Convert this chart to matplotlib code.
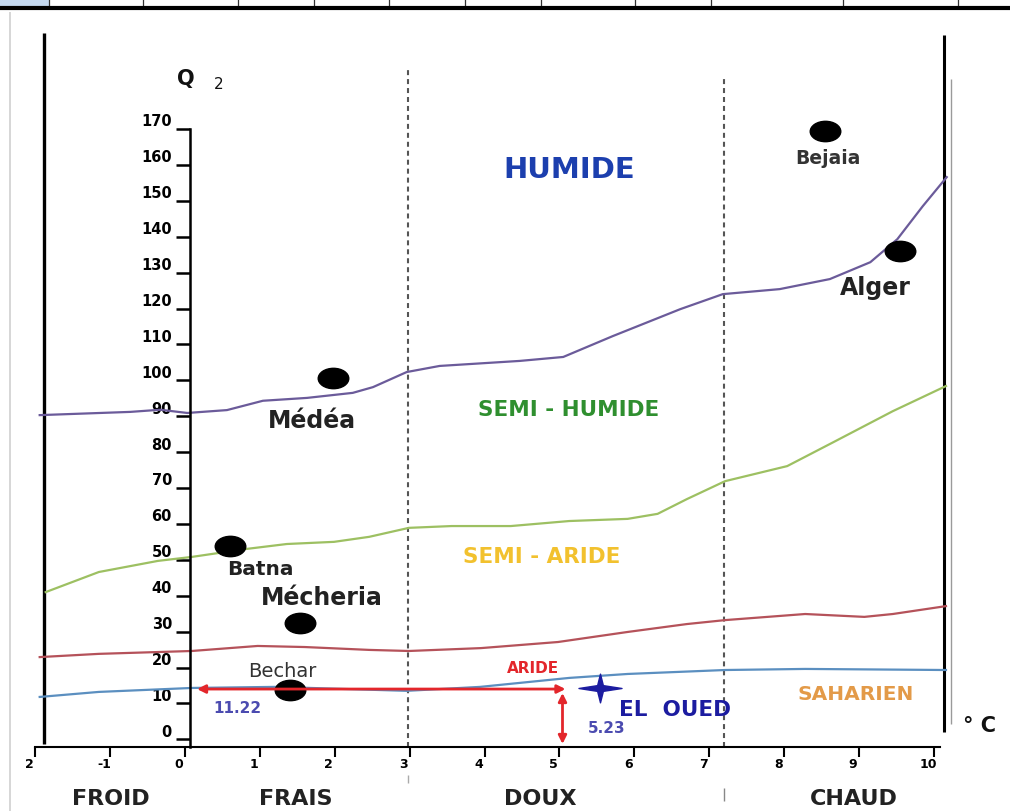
import matplotlib
matplotlib.use("Agg")
import matplotlib.pyplot as plt
from matplotlib.path import Path
from matplotlib.transforms import Affine2D, ScaledTranslation

plt.rcParams['font.family'] = ['DejaVu Sans']

# ---------------- data ----------------
x_ticks = [-2, -1, 0, 1, 2, 3, 4, 5, 6, 7, 8, 9, 10]
x_tick_labels = ["2", "-1", "0", "1", "2", "3", "4", "5", "6", "7", "8", "9", "10"]
y_ticks = [0, 10, 20, 30, 40, 50, 60, 70, 80, 90, 100, 110, 120, 130, 140, 150, 160, 170]
y_tick_labels = [str(v) for v in y_ticks]

purple_m = [-1.94, -0.73, -0.33, 0.03, 0.56, 1.04, 1.63, 2.24, 2.51, 2.96, 3.40, 4.47,
            5.05, 5.71, 6.61, 7.18, 7.94, 8.61, 9.15, 9.51, 9.85, 10.17]
purple_q2 = [90.3, 91.2, 91.8, 90.9, 91.7, 94.3, 95.1, 96.5, 98.1, 102.3, 104.0, 105.4,
             106.5, 112.3, 119.8, 124.0, 125.4, 128.2, 132.9, 139.3, 148.5, 156.6]

green_m = [-1.86, -1.15, -0.36, 0.09, 0.81, 1.36, 1.99, 2.46, 2.99, 3.56, 4.35, 5.13,
           5.91, 6.31, 6.70, 7.21, 8.04, 8.66, 9.45, 10.16]
green_q2 = [41.0, 46.6, 49.7, 50.8, 53.0, 54.4, 55.0, 56.4, 58.9, 59.4, 59.4, 60.8,
            61.4, 62.8, 66.9, 71.9, 76.1, 82.8, 91.4, 98.4]

red_m = [-1.94, -1.15, 0.09, 0.97, 1.60, 2.46, 2.99, 3.95, 4.98, 5.91, 6.70, 7.21,
         8.28, 9.07, 9.45, 10.16]
red_q2 = [22.9, 23.8, 24.6, 26.0, 25.7, 24.9, 24.6, 25.4, 27.1, 29.9, 32.1, 33.2,
          34.9, 34.1, 34.9, 37.1]

blue_m = [-1.94, -1.15, 0.09, 1.20, 2.96, 3.94, 5.13, 5.91, 7.21, 8.28, 10.16]
blue_q2 = [11.8, 13.2, 14.3, 14.6, 13.5, 14.6, 17.1, 18.2, 19.3, 19.6, 19.3]

stations = ["Bejaia", "Alger", "Médéa", "Batna", "Mécheria", "Bechar"]
station_m = [8.54, 9.55, 1.98, 0.60, 1.54, 1.40]
station_q2 = [169.4, 136.0, 100.6, 53.9, 32.4, 13.7]

el_oued_m = 5.54
el_oued_q2 = 14.2
arrow_q2 = 14.0
arrow_m = 5.08
el_oued_q2_label = "11.22"
el_oued_m_label = "5.23"

zone_bounds_m = [2.98, 7.20]
zone_bounds_top = [187.3, 183.9]
temp_zones = ["FROID", "FRAIS", "DOUX", "CHAUD"]

# ---------------- figure / pixel mapping ----------------
W, H = 1010, 812
X0, XS = 185.0, 74.9
Y0, YS = 740.3, 3.59


def X(px):
    return (px - X0) / XS


def Y(py):
    return (Y0 - py) / YS


fig = plt.figure(figsize=(W / 100, H / 100), dpi=100, facecolor='white')
ax = fig.add_axes([0, 0, 1, 1])
ax.set_xlim(X(0), X(W))
ax.set_ylim(Y(H), Y(0))
ax.patch.set_visible(False)

# ---------------- decorations (frame) ----------------
def pline(x0, y0, x1, y1, **kw):
    ax.plot([X(x0), X(x1)], [Y(y0), Y(y1)], clip_on=False, solid_capstyle='butt', **kw)

# top table strip
ax.add_patch(plt.Rectangle((X(0), Y(7)), X(49) - X(0), Y(0) - Y(7),
                           facecolor='#c5d9f0', edgecolor='none', clip_on=False))
for sx in [49, 143, 238, 314, 389, 465, 541, 635, 711, 843, 958]:
    pline(sx, 0, sx, 7, color='#333333', lw=0.9)
pline(0, 9, W, 9, color='black', lw=3.0)
# left grey border
pline(10, 13, 10, H, color='#cfcfcf', lw=1.2)
# black frame lines
pline(44, 34, 44, 745, color='black', lw=2.4)
pline(944, 36, 944, 733, color='black', lw=2.2)
pline(951, 80, 951, 725, color='#9a9a9a', lw=1.0)

# ---------------- axes ----------------
for s in ['top', 'right']:
    ax.spines[s].set_visible(False)
ax.spines['left'].set_position(('data', X(190)))
ax.spines['left'].set_bounds(Y(748), 170)
ax.spines['left'].set_linewidth(1.8)
ax.spines['bottom'].set_position(('data', Y(748)))
ax.spines['bottom'].set_bounds(X(35), X(940))
ax.spines['bottom'].set_linewidth(1.5)

ax.set_xticks(x_ticks, x_tick_labels)
ax.set_yticks(y_ticks, y_tick_labels)
ax.tick_params(axis='y', direction='out', length=10, width=1.8, pad=3, labelsize=10.5)
ax.tick_params(axis='x', direction='out', length=7, width=1.5, pad=0.5, labelsize=9)
for t in ax.yaxis.get_major_ticks():
    t.label1.set_fontweight('bold')
    t.label1.set_transform(t.label1.get_transform() + ScaledTranslation(0, 9.5 / 100, fig.dpi_scale_trans))
for t in ax.xaxis.get_major_ticks():
    t.label1.set_fontweight('bold')
    t.label1.set_transform(t.label1.get_transform() + ScaledTranslation(-6 / 100, 0, fig.dpi_scale_trans))

# zone boundary dashed lines
for m, top in zip(zone_bounds_m, zone_bounds_top):
    ax.plot([m, m], [Y(748), top], color='#555555', lw=1.5, ls=(0, (2.4, 1.9)), zorder=1)
pline(408, 776, 408, 784, color='#aaaaaa', lw=1.0)
pline(724, 789, 724, 802, color='#888888', lw=1.0)

# ---------------- curves ----------------
ax.plot(purple_m, purple_q2, color='#6b5b9a', lw=1.6, zorder=2)
ax.plot(green_m, green_q2, color='#9dc062', lw=1.6, zorder=2)
ax.plot(red_m, red_q2, color='#b5525a', lw=1.6, zorder=2)
ax.plot(blue_m, blue_q2, color='#5b8fc0', lw=1.6, zorder=2)

# ---------------- stations ----------------
ellipse = Path.unit_circle().transformed(Affine2D().scale(1.5, 1.0))
ax.plot(station_m, station_q2, ls='none', marker=ellipse, ms=22, color='black', zorder=3)

red = '#e3262b'
ap = dict(arrowstyle='<|-|>', color=red, lw=2.0, mutation_scale=12, shrinkA=0, shrinkB=0)
ax.annotate('', xy=(X(197), arrow_q2), xytext=(arrow_m, arrow_q2), arrowprops=ap, zorder=4)
ax.annotate('', xy=(arrow_m - 0.04, Y(694)), xytext=(arrow_m - 0.04, Y(745)), arrowprops=ap, zorder=4)

star = Path([(0, 1), (0.2, 0.2), (1.5, 0), (0.2, -0.2), (0, -1), (-0.2, -0.2), (-1.5, 0),
             (-0.2, 0.2), (0, 1)], closed=True)
ax.plot([el_oued_m], [el_oued_q2], ls='none', marker=star, ms=31, color='#1c1ca0', zorder=5)

# ---------------- texts ----------------
def T(xpx, ypx, s, **kw):
    kw.setdefault('ha', 'center')
    kw.setdefault('va', 'baseline')
    ax.text(X(xpx), Y(ypx), s, clip_on=False, **kw)

T(186, 85, "Q", fontsize=15, fontweight='bold', color='#111111')
T(219, 89, "2", fontsize=11, color='#111111')

T(569, 178, "HUMIDE", fontsize=21, fontweight='bold', color='#1c3fae')
T(569, 416, "SEMI - HUMIDE", fontsize=15.5, fontweight='bold', color='#2f8f2f')
T(542, 563, "SEMI - ARIDE", fontsize=15.5, fontweight='bold', color='#f2c12e')
T(533, 673, "ARIDE", fontsize=11, fontweight='bold', color=red)
T(856, 700, "SAHARIEN", fontsize=14.5, fontweight='bold', color='#e39a48')

st_pos = {
    "Bejaia": (828, 164, 13.5, 'bold', '#333333'),
    "Alger": (875, 295, 17, 'bold', '#222222'),
    "Médéa": (312, 428, 17, 'bold', '#222222'),
    "Batna": (260, 575, 14.5, 'bold', '#222222'),
    "Mécheria": (322, 605, 17, 'bold', '#222222'),
    "Bechar": (282, 677, 14, 'normal', '#333333'),
}
for name in stations:
    px, py, fs, fw, c = st_pos[name]
    T(px, py, name, fontsize=fs, fontweight=fw, color=c)

T(675, 716, "EL  OUED", fontsize=15.5, fontweight='bold', color='#1c1ca0')
T(237, 713, el_oued_q2_label, fontsize=11, fontweight='bold', color='#4b4bb0')
T(607, 733, el_oued_m_label, fontsize=11, fontweight='bold', color='#4b4bb0')
T(980, 732, "° C", fontsize=15, fontweight='bold', color='#111111')

for name, cx in zip(temp_zones, [111, 296, 540, 854]):
    T(cx, 805, name, fontsize=16, fontweight='bold', color='#222222')

fig.savefig("out.png", dpi=100, facecolor='white')
